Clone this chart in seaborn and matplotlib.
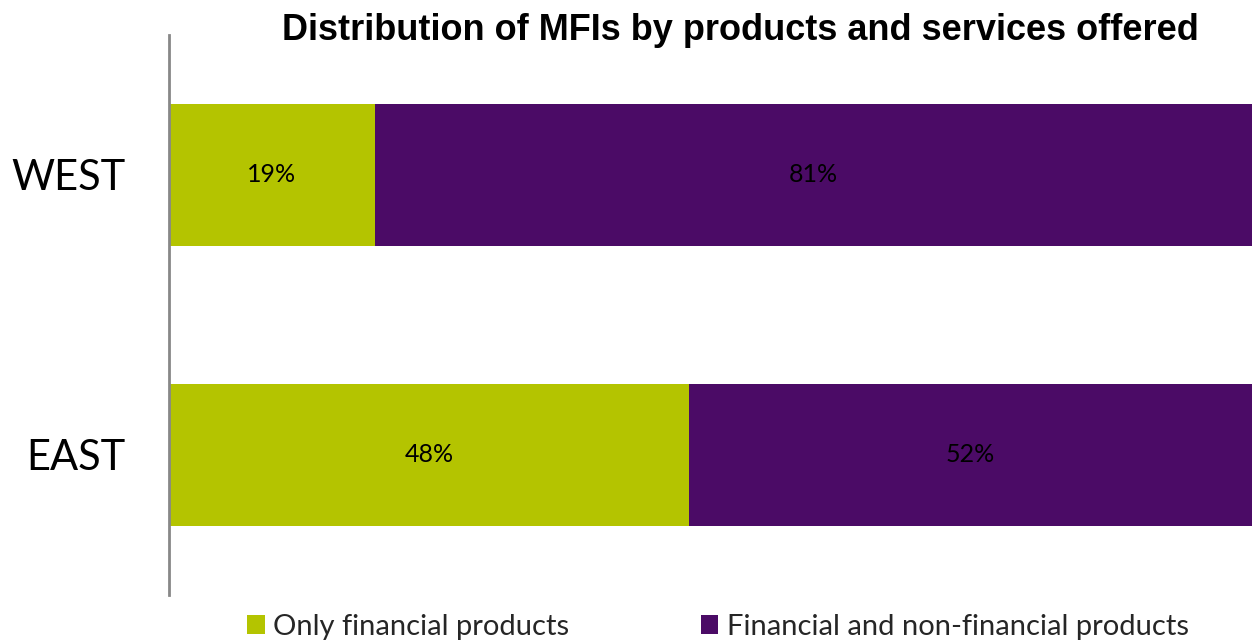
import matplotlib
matplotlib.use("Agg")
import matplotlib.pyplot as plt
from matplotlib.patches import Patch
import pandas as pd
import seaborn as sns

sns.set_theme(style="white")

regions = ["WEST", "EAST"]
only_financial = [19, 48]
fin_and_nonfin = [81, 52]
series_names = ["Only financial products", "Financial and non-financial products"]

green = "#B4C400"
purple = "#4B0B66"

df = pd.DataFrame({"region": regions, "only": only_financial, "both": fin_and_nonfin})
df["total"] = df["only"] + df["both"]

fig = plt.figure(figsize=(12.52, 6.43), dpi=100)
ax = fig.add_axes([169 / 1252, 1 - 595 / 643, 1 - 169 / 1252, 560 / 643])

# stacked bars: full total in purple, financial-only share on top in green
sns.barplot(data=df, x="total", y="region", orient="h", color=purple,
            width=0.51, saturation=1, linewidth=0, ax=ax)
sns.barplot(data=df, x="only", y="region", orient="h", color=green,
            width=0.51, saturation=1, linewidth=0, ax=ax)

for i, (a, b) in enumerate(zip(only_financial, fin_and_nonfin)):
    ax.text(a / 2, i, f"{a}%", ha="center", va="center", fontsize=18,
            family="Lato", color="black")
    ax.text(a + b / 2, i, f"{b}%", ha="center", va="center", fontsize=18,
            family="Lato", color="black")

ax.set_xlim(0, 100)
ax.set_ylim(1.5, -0.5)
ax.set_xlabel("")
ax.set_ylabel("")
ax.set_xticks([])
ax.tick_params(axis="y", length=0, pad=31)
for lab in ax.get_yticklabels():
    lab.set_fontsize(30)
    lab.set_family("Lato")
    lab.set_color("black")
for side in ["top", "right", "bottom"]:
    ax.spines[side].set_visible(False)
ax.spines["left"].set_color("#888888")
ax.spines["left"].set_linewidth(2)

fig.text(740 / 1252, 1 - 30 / 643, "Distribution of MFIs by products and services offered",
         ha="center", va="center", fontsize=26, fontweight="bold",
         family="Liberation Sans", color="black")

handles = [Patch(facecolor=green, edgecolor="none"), Patch(facecolor=purple, edgecolor="none")]
fig.legend(handles, series_names, loc="center", bbox_to_anchor=(718 / 1252, 1 - 627 / 643),
           ncol=2, frameon=False, prop={"family": "Lato", "size": 21},
           handlelength=0.6, handleheight=0.6, handletextpad=0.3, columnspacing=4.5)

fig.savefig("out.png", dpi=100)
